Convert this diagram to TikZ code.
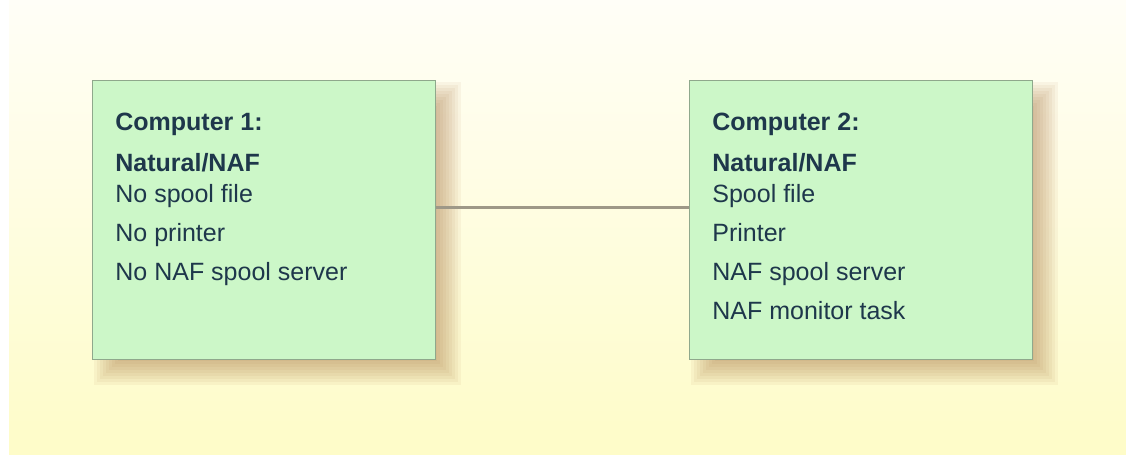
\documentclass[tikz,border=0pt]{standalone}
\usepackage{fontspec}
\setmainfont{Liberation Sans}
\usepackage{tikz}
\usetikzlibrary{positioning}

\definecolor{bgtop}{RGB}{255,254,247}
\definecolor{bgbottom}{RGB}{254,252,200}
\definecolor{boxfill}{RGB}{204,247,200}
\definecolor{boxline}{RGB}{143,168,140}
\definecolor{shadowcol}{RGB}{170,120,70}
\definecolor{txt}{RGB}{30,55,75}
\definecolor{linkcol}{RGB}{158,152,135}

\tikzset{
	computer/.style={draw=boxline, line width=0.5pt, fill=boxfill, minimum width=171.5pt, minimum height=139.5pt, inner sep=0pt},
	boxtext/.style={anchor=north west, inner sep=0pt, align=left, text=txt, font=\fontsize{12.5}{19.5}\selectfont},
	link/.style={draw=linkcol, line width=1.4pt}
}

\begin{document}
\begin{tikzpicture}[x=0.5pt,y=-0.5pt]

	\useasboundingbox (0,0) rectangle (1126,455);
	\shade[top color=bgtop, bottom color=bgbottom] (9,0) rectangle (1126,454);

	% soft shadows below the boxes
	\foreach \cx in {263.5,860.5}{
		\foreach \i in {0,...,9}{
			\fill[shadowcol, opacity=0.07] (\cx-171.5+14-12+3*\i,80+14-12+3*\i) rectangle (\cx+171.5+14+12-3*\i,359+14+12-3*\i);
		}
	}

	\node[computer] (c1) at (263.5,219.5) {};
	\node[computer] (c2) at (860.5,219.5) {};

	\draw[link] ([yshift=6pt]c1.east) -- ([yshift=6pt]c2.west);

	\node[boxtext] (t1) at (115,113) {\textbf{Computer 1:}\\[1pt]
		\textbf{Natural/NAF}\\[-4pt]
		No spool file\\
		No printer\\
		No NAF spool server};
	\node[boxtext] (t2) at (712,113) {\textbf{Computer 2:}\\[1pt]
		\textbf{Natural/NAF}\\[-4pt]
		Spool file\\
		Printer\\
		NAF spool server\\
		NAF monitor task};

\end{tikzpicture}
\end{document}
